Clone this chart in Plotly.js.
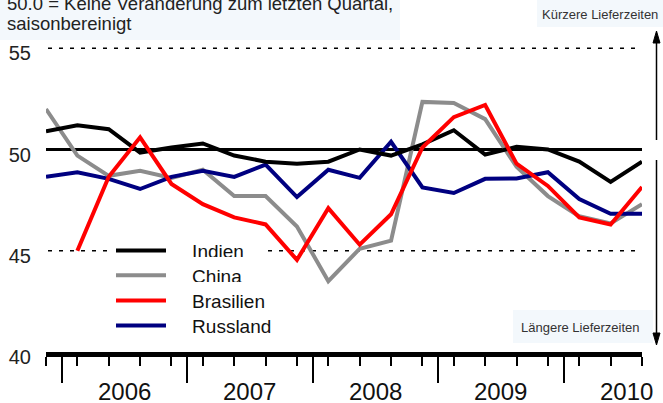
<!DOCTYPE html>
<html>
<head>
<meta charset="utf-8">
<script src="https://cdn.plot.ly/plotly-3.0.1.min.js"></script>
<style>html,body{margin:0;padding:0;background:#fff;}#chart{width:663px;height:403px;}</style>
</head>
<body>
<div id="chart"></div>
<script>
// Quarters: 2005Q4 .. 2010Q3
const quarters = ['2005Q4','2006Q1','2006Q2','2006Q3','2006Q4','2007Q1','2007Q2','2007Q3','2007Q4',
  '2008Q1','2008Q2','2008Q3','2008Q4','2009Q1','2009Q2','2009Q3','2009Q4','2010Q1','2010Q2','2010Q3'];
const indien    = [50.9,51.2,51.0,49.85,50.1,50.3,49.7,49.4,49.3,49.4,50.0,49.7,50.25,50.95,49.75,50.13,50.0,49.4,48.4,49.4];
const china     = [52.0,49.7,48.7,48.95,48.6,49.0,47.7,47.7,46.2,43.5,45.1,45.5,52.35,52.3,51.5,49.15,47.7,46.7,46.35,47.3];
const brasilien = [null,45.0,48.65,50.6,48.3,47.3,46.65,46.3,44.55,47.1,45.3,46.8,50.1,51.6,52.2,49.3,48.2,46.65,46.3,48.15];
const russland  = [48.65,48.88,48.55,48.05,48.65,48.95,48.65,49.25,47.65,49.0,48.6,50.38,48.13,47.85,48.55,48.57,48.88,47.55,46.83,46.83];
const seriesNames = ['Indien','China','Brasilien','Russland'];
const seriesColors = ['#000000','#8c8c8c','#ff0000','#000080'];
const yearLabels = ['2006','2007','2008','2009','2010'];
const yTicks = [40,45,50,55];
const dashedLevels = [45,55];
const neutralLevel = 50;

const xIdx = quarters.map((q,i)=>i);
const yearBoundaries = [0.5,4.5,8.5,12.5,16.5];
const yearCenters = yearBoundaries.map(b=>b+2);

const W=663,H=403,L=46,R=21,T=28,B=51;
const PW=W-L-R, PH=H-T-B;
const px = v => (v-L)/PW;
const py = v => (H-B-v)/PH;

const font = 'Liberation Sans, Arial, sans-serif';
const narrow = 'Liberation Sans Narrow, Liberation Sans, Arial, sans-serif';
const boxColor = '#f3f8fc';

const allSeries = [indien, china, brasilien, russland];
const legendIds = ['legend','legend2','legend3','legend4'];
const legendRows = [250.7, 275.5, 300.7, 325.7];
const pad = '\u00a0\u00a0\u00a0\u00a0';
const drawOrder = [1,3,0,2];
const traces = drawOrder.map(k => ({
  type:'scatter', mode:'lines', name: pad + seriesNames[k],
  x: xIdx, y: allSeries[k],
  line:{color: seriesColors[k], width:4},
  legend: legendIds[k], hoverinfo:'skip'
}));

const shapes = [
  {type:'rect', xref:'paper', yref:'paper', x0:px(0), x1:px(400), y0:py(40), y1:py(0), fillcolor:boxColor, line:{width:0}, layer:'below'},
  {type:'rect', xref:'paper', yref:'paper', x0:px(537), x1:px(663), y0:py(27), y1:py(0), fillcolor:boxColor, line:{width:0}, layer:'below'},
  {type:'rect', xref:'paper', yref:'paper', x0:px(513), x1:px(653), y0:py(343), y1:py(310), fillcolor:boxColor, line:{width:0}, layer:'below'},
];
dashedLevels.forEach(lv => shapes.push({type:'line', xref:'paper', yref:'y', x0:px(48), x1:px(641), y0:lv, y1:lv,
  line:{color:'#000', width:1.5, dash:'4px,7px'}, layer:'below'}));
shapes.push({type:'line', xref:'paper', yref:'y', x0:0, x1:1, y0:neutralLevel, y1:neutralLevel, line:{color:'#000', width:3}, layer:'below'});
// right-side arrows
const ax = 656.5;
shapes.push({type:'line', xref:'paper', yref:'paper', x0:px(ax), x1:px(ax), y0:py(42), y1:py(140), line:{color:'#000', width:1.5}});
shapes.push({type:'line', xref:'paper', yref:'paper', x0:px(ax), x1:px(ax), y0:py(160), y1:py(334), line:{color:'#000', width:1.5}});
shapes.push({type:'path', xref:'paper', yref:'paper', fillcolor:'#000', line:{color:'#000', width:1},
  path:`M${px(ax)},${py(31)} L${px(ax-3.5)},${py(43)} L${px(ax+3.5)},${py(43)} Z`});
shapes.push({type:'path', xref:'paper', yref:'paper', fillcolor:'#000', line:{color:'#000', width:1},
  path:`M${px(ax)},${py(345)} L${px(ax-3.5)},${py(333)} L${px(ax+3.5)},${py(333)} Z`});

const annotations = [
  {xref:'paper', yref:'paper', x:px(5), y:py(3), xanchor:'left', yanchor:'middle', showarrow:false,
   text:'50.0 = Keine Veränderung zum letzten Quartal,', font:{family:font, size:18.5, color:'#222'}},
  {xref:'paper', yref:'paper', x:px(5), y:py(24), xanchor:'left', yanchor:'middle', showarrow:false,
   text:'saisonbereinigt', font:{family:font, size:18.5, color:'#222'}},
  {xref:'paper', yref:'paper', x:px(660), y:py(14), xanchor:'right', yanchor:'middle', showarrow:false,
   text:'Kürzere Lieferzeiten', font:{family:font, size:13, color:'#333'}},
  {xref:'paper', yref:'paper', x:px(642), y:py(327), xanchor:'right', yanchor:'middle', showarrow:false,
   text:'Längere Lieferzeiten', font:{family:font, size:13, color:'#333'}},
];
yearLabels.forEach((yl,i)=>annotations.push({xref:'x', yref:'paper', x:yearCenters[i], y:py(391), xanchor:'center', yanchor:'middle',
  height:22, showarrow:false, text:yl, font:{family:narrow, size:24, color:'#111'}}));

const layout = {
  width:W, height:H, margin:{l:L, r:R, t:T, b:B, pad:0},
  paper_bgcolor:'#fff', plot_bgcolor:'rgba(0,0,0,0)',
  showlegend:true,
  xaxis:{range:[0,19], showgrid:false, zeroline:false, showline:true, linewidth:5, linecolor:'#000',
    tickmode:'array', tickvals:yearBoundaries, ticks:'outside', ticklen:26, tickwidth:2, tickcolor:'#000',
    showticklabels:false, fixedrange:true,
    minor:{tickmode:'array', tickvals:xIdx, ticks:'outside', ticklen:9, tickwidth:2, tickcolor:'#000', showgrid:false}},
  yaxis:{range:[40,56], showgrid:false, zeroline:false, showline:false, tickmode:'array', tickvals:yTicks,
    ticktext:yTicks.map(String), ticks:'', tickfont:{family:narrow, size:20, color:'#222'},
    ticklabelstandoff:14, ticklabelshift:5, fixedrange:true},
  shapes:shapes, annotations:annotations
};
legendIds.forEach((id,k)=>{
  layout[id] = {x:px(111), y:py(legendRows[k]), xanchor:'left', yanchor:'middle', bgcolor:'#fff', borderwidth:0,
    font:{family:narrow, size:19, color:'#111'}, itemwidth:50};
});
Object.assign(layout.legend, {orientation:'h', entrywidth:92, entrywidthmode:'pixels'});
Plotly.newPlot('chart', traces, layout, {displayModeBar:false, staticPlot:true});
</script>
</body>
</html>
